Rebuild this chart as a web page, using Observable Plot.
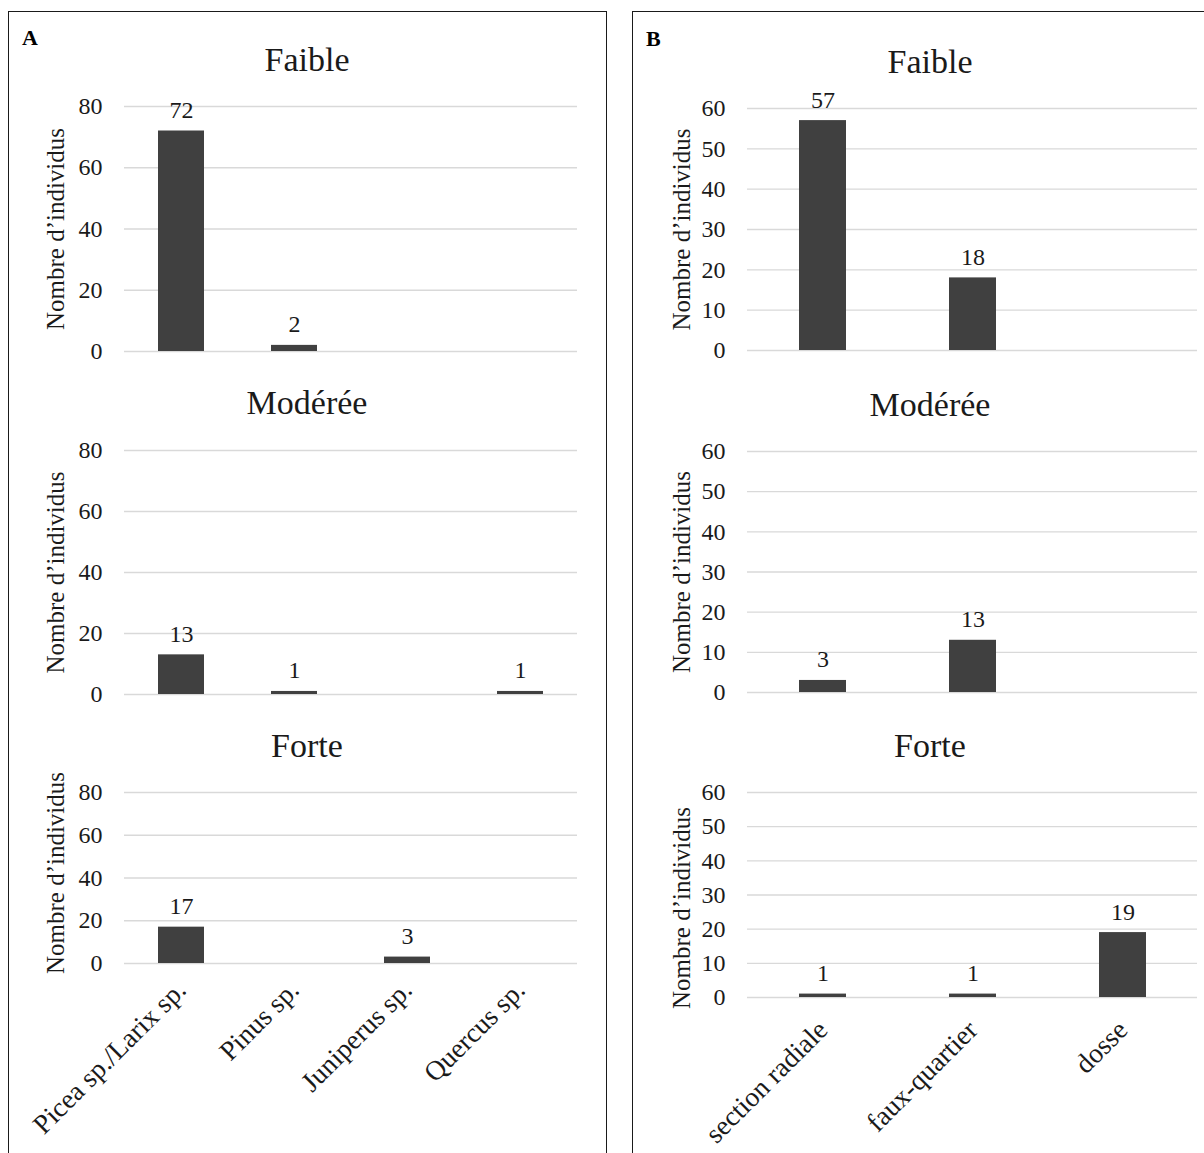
<!DOCTYPE html>
<html>
<head>
<meta charset="utf-8">
<script src="https://cdn.jsdelivr.net/npm/d3@7"></script>
<script src="https://cdn.jsdelivr.net/npm/@observablehq/plot@0.6"></script>
<style>
  html, body { margin: 0; padding: 0; background: #fff; }
  #root { position: relative; width: 1204px; height: 1153px; overflow: hidden; background: #fff; font-family: "Liberation Serif", "DejaVu Serif", serif; color: #1a1a1a; }
  .box { position: absolute; border: 1.5px solid #1a1a1a; box-sizing: border-box; }
  .title { position: absolute; width: 300px; text-align: center; font-size: 34px; line-height: 34px; color: #1a1a1a; }
  .panel { position: absolute; font-weight: bold; font-size: 22px; line-height: 22px; color: #000; }
  .sub { position: absolute; }
  .sub svg { overflow: visible; }
  .sub svg text { font-family: "Liberation Serif", serif !important; }
</style>
</head>
<body>
<div id="root"></div>
<script>
// ---- data ----
const classes = ["Faible", "Modérée", "Forte"];
const speciesA = ["Picea sp./Larix sp.", "Pinus sp.", "Juniperus sp.", "Quercus sp."];
const debitB = ["section radiale", "faux-quartier", "dosse"];
const aFaible = [72, 2, null, null];
const aModeree = [13, 1, null, 1];
const aForte = [17, null, 3, null];
const bFaible = [57, 18, null];
const bModeree = [3, 13, null];
const bForte = [1, 1, 19];
const ticksA = [0, 20, 40, 60, 80];
const ticksB = [0, 10, 20, 30, 40, 50, 60];
const yLabel = "Nombre d’individus";
const panelLabels = ["A", "B"];

// ---- layout ----
const root = document.getElementById("root");
function addDiv(cls, style, text) {
  const d = document.createElement("div");
  d.className = cls;
  Object.assign(d.style, style);
  if (text != null) d.textContent = text;
  root.appendChild(d);
  return d;
}
addDiv("box", {left: "8px", top: "11px", width: "599px", height: "1300px"});
addDiv("box", {left: "632px", top: "11px", width: "700px", height: "1300px"});
addDiv("panel", {left: "22px", top: "27px"}, panelLabels[0]);
addDiv("panel", {left: "646px", top: "28px"}, panelLabels[1]);

const panels = [
  {cats: speciesA, series: [aFaible, aModeree, aForte], ticks: ticksA, max: 80,
   svgLeft: 10, svgWidth: 596, mL: 114, mR: 29, padIn: 0.594,
   titleCx: 307, titleTops: [43, 386, 729], labelDx: -69, labelDy: [0, 0, -5],
   xPad: 22,
   frames: [[106, 351], [450, 694], [792, 963]]},
  {cats: debitB, series: [bFaible, bModeree, bForte], ticks: ticksB, max: 60,
   svgLeft: 634, svgWidth: 570, mL: 113, mR: 7, padIn: 0.687,
   titleCx: 930, titleTops: [45, 388, 729], labelDx: -66, labelDy: [0, 0, 13],
   xPad: 28,
   frames: [[108, 350], [451, 692], [792, 997]]}
];

panels.forEach((p) => {
  p.series.forEach((vals, si) => {
    addDiv("title", {left: (p.titleCx - 150) + "px", top: p.titleTops[si] + "px"}, classes[si]);
    const data = p.cats.map((c, i) => ({cat: c, value: vals[i]})).filter(d => d.value != null);
    const [fTop, fBot] = p.frames[si];
    const bottom = si === 2;
    const mT = 50;
    const mB = bottom ? (1153 - fBot) : 10;
    const height = mT + (fBot - fTop) + mB;
    const marks = [
      Plot.gridY(p.ticks, {stroke: "#d9d9d9", strokeOpacity: 1, strokeWidth: 1.3}),
      Plot.barY(data, {x: "cat", y: "value", fill: "#404040"}),
      Plot.text(data, {x: "cat", y: "value", text: d => String(d.value), lineAnchor: "bottom", dy: -13, fontSize: 24, fill: "#1a1a1a"}),
      Plot.axisY(p.ticks, {tickSize: 0, tickPadding: 22, label: null, fontSize: 24, fill: "#1a1a1a"}),
      Plot.text([yLabel], {frameAnchor: "left", textAnchor: "middle", lineAnchor: "middle", rotate: -90, dx: p.labelDx, dy: p.labelDy[si], text: d => d, fontSize: 25, fill: "#1a1a1a"})
    ];
    if (bottom) {
      marks.push(Plot.axisX({tickSize: 0, tickRotate: -45, tickPadding: p.xPad, label: null, fontSize: 27.5, fill: "#1a1a1a"}));
    }
    const chart = Plot.plot({
      width: p.svgWidth,
      height,
      marginLeft: p.mL, marginRight: p.mR, marginTop: mT, marginBottom: mB,
      style: {fontFamily: "'Liberation Serif', serif", fontSize: "24px", background: "transparent", overflow: "visible", color: "#1a1a1a"},
      x: {domain: p.cats, paddingInner: p.padIn, paddingOuter: p.padIn / 2, axis: bottom ? undefined : null, label: null},
      y: {domain: [0, p.max], label: null, axis: null},
      marks
    });
    const holder = addDiv("sub", {left: p.svgLeft + "px", top: (fTop - mT) + "px"});
    holder.appendChild(chart);
  });
});
</script>
</body>
</html>
